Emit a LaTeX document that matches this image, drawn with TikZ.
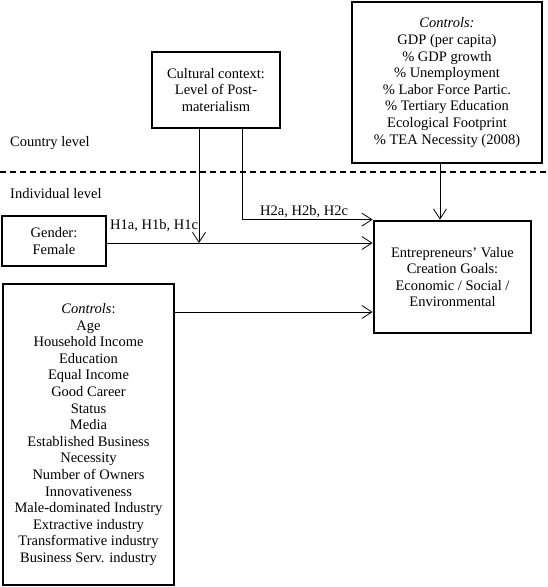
\documentclass[tikz,border=0pt]{standalone}
\usepackage{fontspec}
\setmainfont{Liberation Serif}
\usetikzlibrary{arrows.meta}
\begin{document}
\begin{tikzpicture}[x=1pt,y=-1pt,
 box/.style={draw, line width=2.8pt, align=center, inner sep=0pt, font=\fontsize{14.5}{16.6}\selectfont},
 conn/.style={line width=0.8pt, -{Straight Barb[length=10pt,width=13pt,line width=0.8pt]}},
 lbl/.style={font=\fontsize{14.5}{16.6}\selectfont, inner sep=0pt}]
\useasboundingbox (0,0) rectangle (548,587);
% boxes
\node[box, minimum width=128pt, minimum height=76pt] (cult) at (216,90)
  {Cultural context:\\Level of Post-\\materialism};
\node[box, minimum width=190pt, minimum height=161pt] (ctrlc) at (447,82.5)
  {\textit{Controls:}\\GDP (per capita)\\\% GDP growth\\\% Unemployment\\\% Labor Force Partic.\\\% Tertiary Education\\Ecological Footprint\\\% TEA Necessity (2008)};
\node[box, minimum width=157pt, minimum height=112pt] (ent) at (452.5,277)
  {Entrepreneurs’ Value\\Creation Goals:\\Economic / Social /\\Environmental};
\node[box, minimum width=104pt, minimum height=50pt] (gender) at (54,241)
  {Gender:\\Female};
\node[box, minimum width=171pt, minimum height=301pt] (ctrli) at (88.5,434.5)
  {\textit{Controls}:\\Age\\Household Income\\Education\\Equal Income\\Good Career\\Status\\Media\\Established Business\\Necessity\\Number of Owners\\Innovativeness\\Male-dominated Industry\\Extractive industry\\Transformative industry\\Business Serv. industry};
% level labels and divider
\node[lbl, anchor=west] (country) at (10,143) {Country level};
\node[lbl, anchor=west] (indiv) at (10,194) {Individual level};
\coordinate (dl) at (0,172);
\coordinate (dr) at (548,172);
\draw[line width=1.8pt, dash pattern=on 6pt off 4pt] (dl) -- (dr);
% connector helper coordinates
\coordinate (x1) at (199,243);
\coordinate (x2) at (242,222);
\coordinate (x3) at (440,0);
\coordinate (yg) at (0,243);
\coordinate (yc) at (0,312);
% connectors
\draw[conn] (gender.east |- yg) -- (ent.west |- yg);
\draw[conn] (ctrli.east |- yc) -- (ent.west |- yc);
\draw[conn] (cult.south -| x1) -- (x1);
\draw[conn] (cult.south -| x2) |- (ent.north west);
\draw[conn] (ctrlc.south -| x3) -- (ent.north -| x3);
% hypothesis labels
\node[lbl, anchor=west] (h1) at (110,226) {H1a, H1b, H1c};
\node[lbl, anchor=west] (h2) at (260,212) {H2a, H2b, H2c};
\end{tikzpicture}
\end{document}
